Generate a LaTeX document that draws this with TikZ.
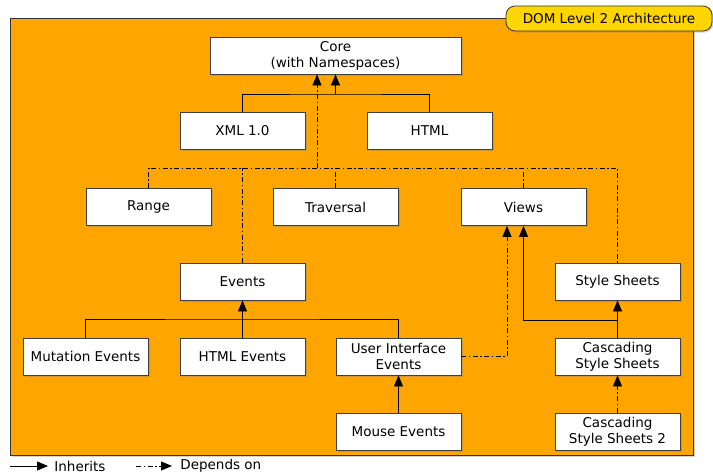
\documentclass[tikz,border=0pt]{standalone}
\usepackage{fontspec}
\setmainfont{DejaVu Sans}
\usetikzlibrary{arrows.meta,shadows}
\definecolor{domorange}{HTML}{FFA500}
\definecolor{domyellow}{HTML}{FFD500}
\begin{document}
\begin{tikzpicture}[x=1pt,y=-1pt,>={Triangle[length=11pt,width=9pt]},line width=0.8pt,
	font=\fontsize{13.5}{16}\selectfont,
	shade/.style={drop shadow={shadow xshift=1.5pt,shadow yshift=-1.5pt,opacity=0.35}},
	box/.style={draw=black!75,fill=white,shade,minimum width=125pt,minimum height=37pt,inner sep=0pt,align=center},
	dep/.style={dash pattern=on 5pt off 2.5pt on 1.5pt off 2.5pt}]
	\useasboundingbox (0,0) rectangle (713,475);
	\draw[draw=black!80,fill=domorange,shade] (10,18) rectangle (693,455);
	\node[draw=black!80,fill=domyellow,rounded corners=9pt,shade,minimum width=206pt,minimum height=25pt,inner sep=0pt] (title) at (609,18.5) {DOM Level 2 Architecture};
	% modules
	\node[box,minimum width=251pt] (core) at (335.5,55.5) {Core\\(with Namespaces)};
	\node[box] (xml) at (242.5,130.5) {XML 1.0};
	\node[box] (html) at (429.5,130.5) {HTML};
	\node[box] (range) at (148.5,207) {Range};
	\node[box] (trav) at (335.5,207) {Traversal};
	\node[box] (views) at (523.5,207) {Views};
	\node[box] (events) at (242.5,281.5) {Events};
	\node[box] (ss) at (617.5,281.5) {Style Sheets};
	\node[box] (mut) at (85.5,356.5) {Mutation Events};
	\node[box] (hev) at (242.5,356.5) {HTML Events};
	\node[box] (uie) at (398.5,356.5) {User Interface\\Events};
	\node[box] (css) at (617.5,356.5) {Cascading\\Style Sheets};
	\node[box] (mouse) at (398.5,431.5) {Mouse Events};
	\node[box] (css2) at (617.5,431.5) {Cascading\\Style Sheets 2};
	\coordinate (j1) at (335.5,94);
	\coordinate (d1) at (317,168);
	\coordinate (j2) at (242.5,319);
	\coordinate (j3) at (617.5,320);
	% inherits
	\draw (xml.north) |- (j1) -| (html.north);
	\draw[->] (j1) -- (core.south);
	\draw (mut.north) |- (j2) -| (uie.north);
	\draw[->] (hev.north) -- (events.south);
	\draw[->] (css.north) -- (ss.south);
	\draw[->] (j3) -| (views.south);
	\draw[->] (mouse.north) -- (uie.south);
	% depends on
	\draw[dep,->] (d1) -- (core.south -| d1);
	\draw[dep] (range.north) |- (ss.north |- d1) -- (ss.north);
	\draw[dep] (events.north) -- (events.north |- d1);
	\draw[dep] (trav.north) -- (trav.north |- d1);
	\draw[dep] (views.north) -- (views.north |- d1);
	\draw[dep,->] (uie.east) -| ([xshift=-16.5pt]views.south);
	\draw[dep,->] (css2.north) -- (css.south);
	% legend
	\coordinate (l1) at (10,466);
	\coordinate (l2) at (136,466);
	\node[right,inner sep=0pt] (linh) at (54,466) {Inherits};
	\node[right,inner sep=0pt] (ldep) at (180,466) {Depends on};
	\draw[->,shorten >=6pt] (l1) -- (linh.west);
	\draw[dep,->,shorten >=8pt] (l2) -- (ldep.west);
	%\node[right] at (690,469) {};
\end{tikzpicture}
\end{document}
